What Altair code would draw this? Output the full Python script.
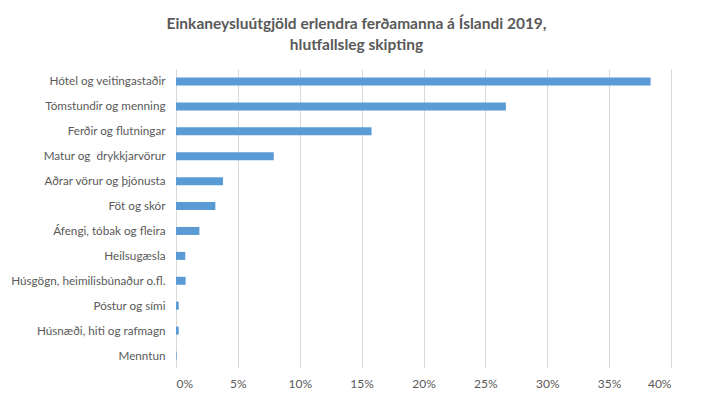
import altair as alt
import pandas as pd

categories = [
    "Hótel og veitingastaðir",
    "Tómstundir og menning",
    "Ferðir og flutningar",
    "Matur og\u00a0 drykkjarvörur",
    "Aðrar vörur og þjónusta",
    "Föt og skór",
    "Áfengi, tóbak og fleira",
    "Heilsugæsla",
    "Húsgögn, heimilisbúnaður o.fl.",
    "Póstur og sími",
    "Húsnæði, hiti og rafmagn",
    "Menntun",
]
values = [0.3835, 0.2666, 0.158, 0.079, 0.038, 0.0318, 0.0189, 0.0075, 0.0078, 0.0022, 0.0022, 0.0005]

df = pd.DataFrame({"cat": categories, "val": values})

FONT = "Lato"
GRAY = "#595959"

chart = (
    alt.Chart(df)
    .mark_bar(color="#5b9bd5", size=8)
    .encode(
        x=alt.X(
            "val:Q",
            scale=alt.Scale(domain=[0, 0.4], nice=False),
            axis=alt.Axis(
                format=".0%",
                values=[0, 0.05, 0.1, 0.15, 0.2, 0.25, 0.3, 0.35, 0.4],
                title=None,
                domain=False,
                ticks=False,
                grid=True,
                gridColor="#d9d9d9",
                gridWidth=1,
                labelColor=GRAY,
                labelFont=FONT,
                labelFontSize=12,
                labelPadding=10,
            ),
        ),
        y=alt.Y(
            "cat:N",
            sort=None,
            axis=alt.Axis(
                title=None,
                domain=False,
                ticks=False,
                labelColor=GRAY,
                labelFont=FONT,
                labelFontSize=11.7,
                labelPadding=11,
                labelLimit=300,
            ),
        ),
    )
    .properties(
        width=495,
        height=299,
        title=alt.TitleParams(
            text=["Einkaneysluútgjöld erlendra ferðamanna á Íslandi 2019,", "hlutfallsleg skipting"],
            font=FONT,
            fontSize=15.5,
            fontWeight="bold",
            color=GRAY,
            anchor="middle",
            dx=-67,
            offset=16,
            lineHeight=21,
        ),
        autosize=alt.AutoSizeParams(type="none"),
        padding={"left": 168, "top": 61, "right": 10, "bottom": 30},
    )
    .configure_view(stroke=None)
)

chart.save("out.html", embed_options={"renderer": "svg", "actions": False})
